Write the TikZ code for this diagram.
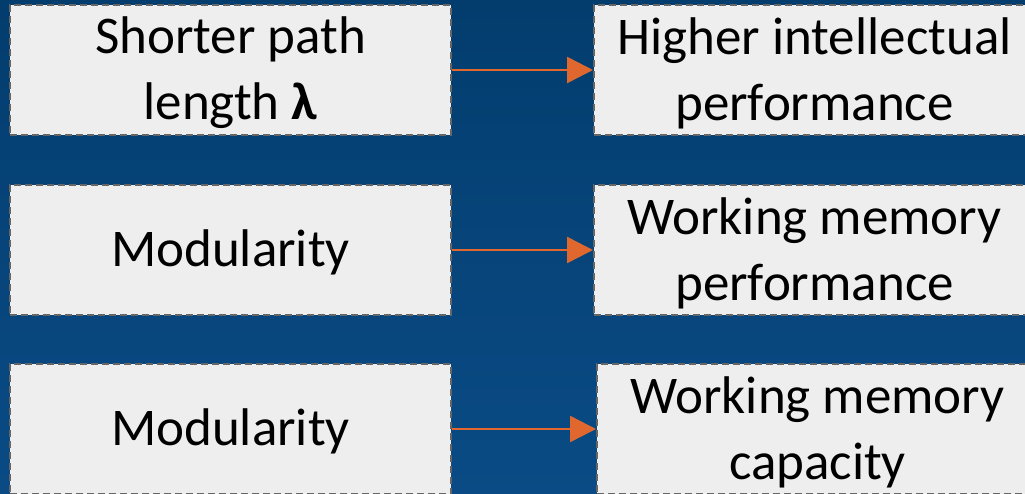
\documentclass[tikz,border=0pt]{standalone}
\usepackage{fontspec}
\setmainfont{Carlito}
\usetikzlibrary{arrows.meta}
\definecolor{bgtop}{HTML}{033D6E}
\definecolor{bgbot}{HTML}{0A4B85}
\definecolor{boxfill}{HTML}{EEEEEE}
\definecolor{boxline}{HTML}{666666}
\definecolor{arrcol}{HTML}{E0682E}
\begin{document}
\begin{tikzpicture}[x=1pt,y=-1pt,
  box/.style={draw=boxline, fill=boxfill, line width=2pt,
    dash pattern=on 7pt off 4pt, minimum width=441pt, minimum height=130pt,
    inner sep=0pt},
  txt/.style={inner sep=0pt, align=center, font=\fontsize{53}{66}\selectfont, text=black},
  arr/.style={draw=arrcol, line width=2.5pt, -{Triangle[length=26pt,width=26pt]}}]
\useasboundingbox (0,0) rectangle (1025,493);
\clip (0,0) rectangle (1025,493);
\shade[top color=bgtop, bottom color=bgbot] (0,0) rectangle (1025,493);
\node[box] (l1) at (230.5,70) {};
\node[box] (r1) at (814.5,70) {};
\node[box] (l2) at (230.5,250) {};
\node[box] (r2) at (814.5,250) {};
\node[box] (l3) at (230.5,429) {};
\node[box] (r3) at (817.5,429) {};
\node[txt] (l1t) at ([yshift=-3pt]l1.center) {Shorter path\\length \textbf{λ}};
\node[txt] (r1t) at ([yshift=-3pt]r1.center) {Higher intellectual\\performance};
\node[txt] (l2t) at ([yshift=-2pt]l2.center) {Modularity};
\node[txt] (r2t) at ([yshift=-3pt]r2.center) {Working memory\\performance};
\node[txt] (l3t) at ([yshift=-2pt]l3.center) {Modularity};
\node[txt] (r3t) at ([yshift=-3pt]r3.center) {Working memory\\capacity};
\draw[arr] (l1.east) -- (r1.west);
\draw[arr] (l2.east) -- (r2.west);
\draw[arr] (l3.east) -- (r3.west);
\end{tikzpicture}
\end{document}
